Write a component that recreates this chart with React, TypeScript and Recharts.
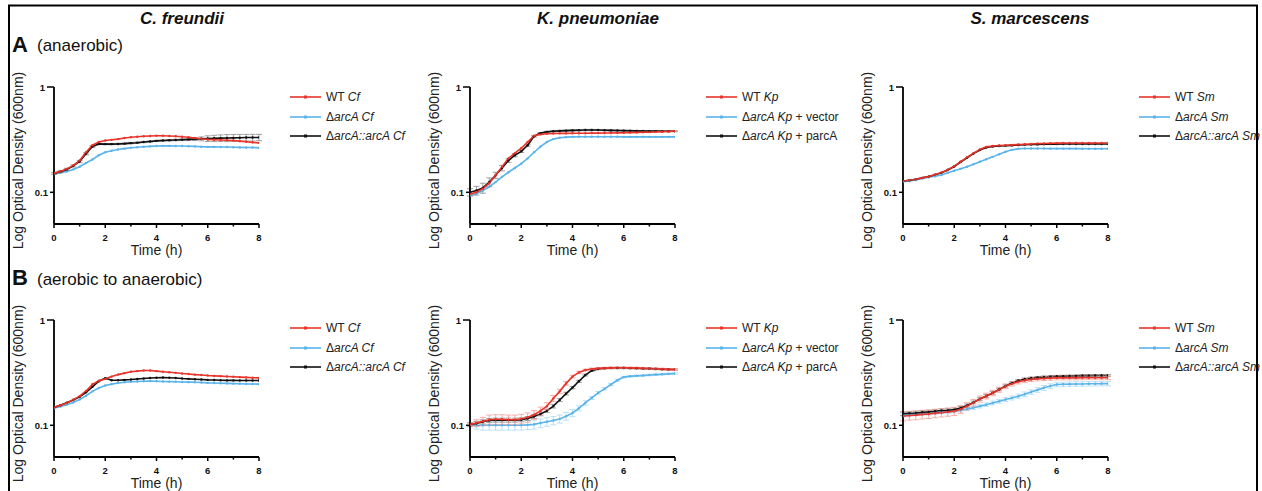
import React from "react";
import { LineChart, Line, XAxis, YAxis, Legend, ErrorBar } from "recharts";

const FONT = "'Liberation Sans', Arial, Helvetica, sans-serif";
const RED = "#e8352b";
const BLUE = "#5ab4ea";
const BLACK = "#111111";
const RED_ERR = "#f19a94";
const BLUE_ERR = "#a9d9f6";
const BLACK_ERR = "#8a8a8a";

// sampling times (h)
const times = [0, 0.25, 0.5, 0.75, 1, 1.25, 1.5, 1.75, 2, 2.25, 2.5, 2.75, 3, 3.25, 3.5, 3.75, 4, 4.25, 4.5, 4.75, 5, 5.25, 5.5, 5.75, 6, 6.25, 6.5, 6.75, 7, 7.25, 7.5, 7.75, 8];
const xTicks = [0, 1, 2, 3, 4, 5, 6, 7, 8];
const yTicks = [0.1, 1];

// A: anaerobic
const cfAnaWT = [0.152, 0.158, 0.167, 0.18, 0.2, 0.24, 0.28, 0.3, 0.31, 0.315, 0.32, 0.328, 0.333, 0.337, 0.341, 0.343, 0.344, 0.344, 0.343, 0.341, 0.337, 0.333, 0.328, 0.322, 0.318, 0.316, 0.314, 0.312, 0.31, 0.306, 0.302, 0.298, 0.295];
const cfAnaKO = [0.149, 0.153, 0.158, 0.165, 0.175, 0.19, 0.205, 0.225, 0.24, 0.248, 0.255, 0.26, 0.265, 0.268, 0.271, 0.273, 0.275, 0.276, 0.276, 0.275, 0.275, 0.274, 0.273, 0.271, 0.27, 0.27, 0.269, 0.269, 0.268, 0.267, 0.266, 0.266, 0.265];
const cfAnaComp = [0.151, 0.157, 0.165, 0.178, 0.196, 0.232, 0.272, 0.288, 0.287, 0.287, 0.288, 0.29, 0.293, 0.296, 0.3, 0.304, 0.308, 0.31, 0.312, 0.314, 0.316, 0.318, 0.32, 0.322, 0.324, 0.326, 0.327, 0.328, 0.329, 0.33, 0.331, 0.331, 0.332];
const cfAnaCompErr = [0.003, 0.003, 0.004, 0.004, 0.005, 0.005, 0.005, 0.004, 0.004, 0.004, 0.004, 0.004, 0.004, 0.004, 0.004, 0.004, 0.004, 0.004, 0.005, 0.005, 0.006, 0.008, 0.01, 0.014, 0.02, 0.022, 0.024, 0.025, 0.025, 0.025, 0.024, 0.024, 0.023];

const kpAnaWT = [0.096, 0.1, 0.108, 0.122, 0.145, 0.175, 0.21, 0.235, 0.262, 0.3, 0.345, 0.355, 0.36, 0.362, 0.363, 0.363, 0.364, 0.364, 0.364, 0.365, 0.365, 0.366, 0.366, 0.367, 0.368, 0.369, 0.37, 0.372, 0.373, 0.375, 0.376, 0.378, 0.38];
const kpAnaKO = [0.093, 0.097, 0.104, 0.113, 0.125, 0.14, 0.155, 0.17, 0.187, 0.21, 0.24, 0.272, 0.3, 0.32, 0.33, 0.334, 0.336, 0.337, 0.337, 0.337, 0.337, 0.337, 0.337, 0.337, 0.336, 0.336, 0.336, 0.336, 0.336, 0.336, 0.336, 0.336, 0.336];
const kpAnaComp = [0.1, 0.104, 0.11, 0.125, 0.145, 0.17, 0.2, 0.225, 0.245, 0.28, 0.34, 0.365, 0.375, 0.38, 0.383, 0.385, 0.387, 0.389, 0.39, 0.39, 0.39, 0.389, 0.387, 0.386, 0.385, 0.384, 0.383, 0.382, 0.381, 0.381, 0.38, 0.38, 0.38];
const kpAnaCompErr = [0.008, 0.01, 0.012, 0.012, 0.01, 0.01, 0.008, 0.008, 0.006, 0.006, 0.006, 0.005, 0.005, 0.005, 0.005, 0.005, 0.006, 0.006, 0.006, 0.006, 0.005, 0.005, 0.005, 0.004, 0.004, 0.004, 0.004, 0.004, 0.004, 0.004, 0.004, 0.004, 0.004];

const smAnaWT = [0.128, 0.13, 0.133, 0.137, 0.141, 0.147, 0.154, 0.164, 0.177, 0.195, 0.215, 0.235, 0.255, 0.27, 0.275, 0.278, 0.28, 0.282, 0.284, 0.286, 0.288, 0.29, 0.291, 0.292, 0.293, 0.294, 0.294, 0.294, 0.294, 0.294, 0.294, 0.294, 0.294];
const smAnaKO = [0.126, 0.128, 0.131, 0.135, 0.139, 0.142, 0.146, 0.153, 0.16, 0.167, 0.175, 0.185, 0.195, 0.206, 0.217, 0.23, 0.243, 0.253, 0.259, 0.261, 0.261, 0.261, 0.261, 0.26, 0.26, 0.26, 0.26, 0.26, 0.259, 0.259, 0.259, 0.259, 0.259];
const smAnaComp = [0.128, 0.13, 0.133, 0.137, 0.141, 0.147, 0.153, 0.163, 0.176, 0.194, 0.213, 0.233, 0.252, 0.266, 0.272, 0.275, 0.277, 0.279, 0.281, 0.283, 0.284, 0.285, 0.286, 0.287, 0.287, 0.288, 0.288, 0.288, 0.288, 0.288, 0.288, 0.288, 0.288];

// B: aerobic to anaerobic
const cfAerWT = [0.148, 0.155, 0.163, 0.175, 0.189, 0.212, 0.245, 0.265, 0.276, 0.29, 0.303, 0.313, 0.322, 0.327, 0.331, 0.331, 0.327, 0.323, 0.319, 0.315, 0.31, 0.307, 0.303, 0.3, 0.297, 0.295, 0.293, 0.291, 0.289, 0.287, 0.285, 0.283, 0.282];
const cfAerKO = [0.145, 0.151, 0.157, 0.165, 0.176, 0.191, 0.21, 0.226, 0.239, 0.246, 0.252, 0.256, 0.259, 0.261, 0.262, 0.263, 0.262, 0.261, 0.26, 0.259, 0.258, 0.257, 0.256, 0.255, 0.253, 0.252, 0.251, 0.25, 0.249, 0.248, 0.247, 0.247, 0.246];
const cfAerComp = [0.148, 0.155, 0.164, 0.174, 0.186, 0.206, 0.232, 0.262, 0.28, 0.268, 0.268, 0.27, 0.272, 0.275, 0.278, 0.281, 0.283, 0.284, 0.283, 0.281, 0.278, 0.276, 0.274, 0.272, 0.27, 0.269, 0.268, 0.267, 0.267, 0.266, 0.266, 0.266, 0.266];

const kpAerWT = [0.102, 0.105, 0.109, 0.113, 0.114, 0.114, 0.113, 0.113, 0.115, 0.119, 0.126, 0.137, 0.152, 0.18, 0.21, 0.25, 0.29, 0.318, 0.335, 0.343, 0.347, 0.349, 0.351, 0.352, 0.352, 0.351, 0.35, 0.348, 0.346, 0.344, 0.342, 0.34, 0.339];
const kpAerWTErr = [0.004, 0.008, 0.01, 0.012, 0.012, 0.012, 0.012, 0.012, 0.012, 0.012, 0.012, 0.012, 0.012, 0.012, 0.01, 0.01, 0.008, 0.008, 0.006, 0.006, 0.006, 0.006, 0.006, 0.006, 0.006, 0.006, 0.006, 0.006, 0.006, 0.006, 0.006, 0.006, 0.006];
const kpAerKO = [0.101, 0.1, 0.1, 0.1, 0.1, 0.1, 0.1, 0.1, 0.1, 0.101, 0.102, 0.105, 0.108, 0.111, 0.115, 0.122, 0.131, 0.145, 0.163, 0.182, 0.203, 0.222, 0.244, 0.268, 0.287, 0.292, 0.295, 0.297, 0.3, 0.303, 0.305, 0.308, 0.31];
const kpAerKOErr = [0.004, 0.008, 0.01, 0.01, 0.01, 0.01, 0.01, 0.01, 0.01, 0.01, 0.01, 0.01, 0.01, 0.01, 0.01, 0.01, 0.01, 0.008, 0.008, 0.006, 0.006, 0.006, 0.006, 0.006, 0.005, 0.005, 0.005, 0.005, 0.005, 0.005, 0.005, 0.005, 0.005];
const kpAerComp = [0.102, 0.104, 0.108, 0.111, 0.112, 0.112, 0.112, 0.112, 0.113, 0.116, 0.121, 0.128, 0.137, 0.152, 0.174, 0.2, 0.228, 0.262, 0.3, 0.33, 0.343, 0.348, 0.35, 0.35, 0.35, 0.349, 0.348, 0.346, 0.345, 0.343, 0.341, 0.34, 0.339];
const kpAerCompErr = [0.004, 0.005, 0.005, 0.005, 0.005, 0.005, 0.005, 0.005, 0.005, 0.005, 0.005, 0.005, 0.005, 0.006, 0.006, 0.006, 0.006, 0.006, 0.006, 0.005, 0.005, 0.005, 0.005, 0.005, 0.005, 0.005, 0.005, 0.005, 0.005, 0.005, 0.005, 0.005, 0.005];

const smAerWT = [0.122, 0.124, 0.125, 0.127, 0.128, 0.13, 0.132, 0.134, 0.136, 0.142, 0.152, 0.164, 0.178, 0.19, 0.203, 0.218, 0.235, 0.248, 0.259, 0.266, 0.272, 0.276, 0.278, 0.28, 0.282, 0.282, 0.282, 0.282, 0.283, 0.283, 0.283, 0.283, 0.283];
const smAerWTErr = [0.012, 0.012, 0.012, 0.012, 0.012, 0.012, 0.012, 0.012, 0.012, 0.012, 0.012, 0.012, 0.012, 0.012, 0.012, 0.012, 0.012, 0.012, 0.012, 0.012, 0.012, 0.012, 0.012, 0.012, 0.012, 0.012, 0.012, 0.012, 0.012, 0.012, 0.012, 0.012, 0.012];
const smAerKO = [0.126, 0.127, 0.128, 0.129, 0.129, 0.131, 0.133, 0.134, 0.136, 0.139, 0.143, 0.147, 0.152, 0.157, 0.163, 0.169, 0.176, 0.182, 0.189, 0.197, 0.207, 0.217, 0.227, 0.236, 0.244, 0.245, 0.246, 0.247, 0.247, 0.248, 0.248, 0.249, 0.249];
const smAerKOErr = [0.004, 0.004, 0.004, 0.004, 0.004, 0.004, 0.004, 0.004, 0.005, 0.005, 0.005, 0.006, 0.006, 0.006, 0.007, 0.007, 0.008, 0.008, 0.009, 0.01, 0.01, 0.011, 0.012, 0.012, 0.012, 0.012, 0.012, 0.012, 0.012, 0.012, 0.012, 0.012, 0.012];
const smAerComp = [0.129, 0.13, 0.131, 0.133, 0.134, 0.136, 0.138, 0.139, 0.141, 0.146, 0.154, 0.165, 0.178, 0.19, 0.203, 0.219, 0.236, 0.252, 0.266, 0.275, 0.281, 0.285, 0.288, 0.29, 0.292, 0.293, 0.294, 0.295, 0.296, 0.296, 0.297, 0.297, 0.297];
const smAerCompErr = [0.005, 0.005, 0.005, 0.005, 0.005, 0.005, 0.005, 0.005, 0.005, 0.005, 0.005, 0.005, 0.005, 0.006, 0.006, 0.006, 0.006, 0.006, 0.006, 0.006, 0.006, 0.006, 0.006, 0.006, 0.006, 0.006, 0.006, 0.006, 0.006, 0.006, 0.006, 0.006, 0.006];

// legend labels: [text, italic]
const cfNames = [[["WT ", false], ["Cf", true]], [["Δ", false], ["arcA Cf", true]], [["Δ", false], ["arcA::arcA Cf", true]]];
const kpNames = [[["WT ", false], ["Kp", true]], [["Δ", false], ["arcA Kp", true], [" + vector", false]], [["Δ", false], ["arcA Kp", true], [" + parcA", false]]];
const smNames = [[["WT ", false], ["Sm", true]], [["Δ", false], ["arcA Sm", true]], [["Δ", false], ["arcA::arcA Sm", true]]];

const PLOT_W = 205;
const PLOT_H = 137;
const M_LEFT = 10;
const Y_W = 40;
const M_TOP = 25;
const X_H = 36;

const XTick = (props: any) => {
  const { x, y, payload } = props;
  const major = payload.value % 2 === 0;
  return (
    <g>
      <line x1={x} x2={x} y1={y} y2={y + (major ? 4 : 2.5)} stroke="#000" strokeWidth={1.5} />
      {major && (
        <text x={x} y={y + 16.5} textAnchor="middle" fontSize={9.5} fontWeight={700} fontFamily={FONT} fill="#111">
          {payload.value}
        </text>
      )}
    </g>
  );
};

const YTick = (props: any) => {
  const { x, y, payload } = props;
  const len = payload.value === 1 ? 7 : 4;
  return (
    <g>
      <line x1={x - len} x2={x} y1={y} y2={y} stroke="#000" strokeWidth={1.5} />
      <text x={x - len - 2} y={y + 3.5} textAnchor="end" fontSize={9.5} fontWeight={700} fontFamily={FONT} fill="#111">
        {payload.value}
      </text>
    </g>
  );
};

const YLabel = () => {
  const cx = M_LEFT + Y_W - 36;
  const cy = M_TOP + PLOT_H / 2 + 5;
  return (
    <text x={cx} y={cy} transform={`rotate(-90 ${cx} ${cy})`} textAnchor="middle" dominantBaseline="central" fontSize={14} fontFamily={FONT} fill="#222">
      Log Optical Density (600nm)
    </text>
  );
};

const XLabel = () => (
  <text x={M_LEFT + Y_W + PLOT_W / 2} y={M_TOP + PLOT_H + 31} textAnchor="middle" fontSize={14} fontFamily={FONT} fill="#222">
    Time (h)
  </text>
);

function Panel({ plotLeft, plotTop, legendTop, series }: any) {
  const data = times.map((t, i) => {
    const row: any = { t };
    series.forEach((s: any) => {
      row[s.key] = s.values[i];
      if (s.err) row[s.key + "Err"] = s.err[i];
    });
    return row;
  });
  const drawOrder = [series[1], series[2], series[0]];
  const renderLegend = () => (
    <div style={{ fontFamily: FONT, fontSize: 12, color: "#222" }}>
      {series.map((s: any) => (
        <div key={s.key} style={{ display: "flex", alignItems: "center", height: 19.5 }}>
          <svg width={31} height={6} style={{ flex: "none" }}>
            <line x1={0} x2={31} y1={3} y2={3} stroke={s.color} strokeWidth={1.6} />
            <rect x={14} y={1.5} width={3} height={3} fill={s.color} />
          </svg>
          <span style={{ marginLeft: 5, whiteSpace: "nowrap" }}>
            {s.name.map(([txt, it]: any, i: number) => (
              <span key={i} style={{ fontStyle: it ? "italic" : "normal" }}>{txt}</span>
            ))}
          </span>
        </div>
      ))}
    </div>
  );
  return (
    <div style={{ position: "absolute", left: plotLeft - M_LEFT - Y_W, top: plotTop - M_TOP }}>
      <LineChart width={420} height={M_TOP + PLOT_H + X_H} data={data} margin={{ top: M_TOP, right: 420 - M_LEFT - Y_W - PLOT_W, bottom: 0, left: M_LEFT }}>
        <XAxis
          dataKey="t"
          type="number"
          domain={[0, 8]}
          ticks={xTicks}
          interval={0}
          tick={<XTick />}
          tickLine={false}
          tickSize={0}
          tickMargin={0}
          height={X_H}
          axisLine={{ stroke: "#000", strokeWidth: 1.8 }}
          allowDataOverflow
          label={<XLabel />}
        />
        <YAxis
          type="number"
          scale="log"
          domain={[0.05, 1]}
          ticks={yTicks}
          interval={0}
          tick={<YTick />}
          tickLine={false}
          tickSize={0}
          tickMargin={0}
          width={Y_W}
          axisLine={{ stroke: "#000", strokeWidth: 1.8 }}
          allowDataOverflow
          label={<YLabel />}
        />
        <Legend
          layout="vertical"
          align="center"
          verticalAlign="middle"
          width={150}
          content={renderLegend}
          wrapperStyle={{ left: M_LEFT + Y_W + PLOT_W + 31, top: legendTop + M_TOP }}
        />
        {drawOrder.map((s: any) => (
          <Line
            key={s.key}
            dataKey={s.key}
            name={s.key}
            type="linear"
            stroke={s.color}
            strokeWidth={1.6}
            dot={{ r: 1.2, fill: s.color, stroke: "none" }}
            activeDot={false}
            isAnimationActive={false}
          >
            {s.err && (
              <ErrorBar dataKey={s.key + "Err"} width={3} stroke={s.errColor} strokeWidth={0.8} direction="y" isAnimationActive={false} />
            )}
          </Line>
        ))}
      </LineChart>
    </div>
  );
}

const mk = (names: any, wt: number[], ko: number[], comp: number[], errs: any = {}) => [
  { key: "wt", name: names[0], color: RED, errColor: RED_ERR, values: wt, err: errs.wt },
  { key: "ko", name: names[1], color: BLUE, errColor: BLUE_ERR, values: ko, err: errs.ko },
  { key: "comp", name: names[2], color: BLACK, errColor: BLACK_ERR, values: comp, err: errs.comp },
];

export default function App() {
  const rowA = 87;
  const rowB = 320;
  return (
    <div style={{ position: "absolute", left: 0, top: 0, width: 1262, height: 491, overflow: "hidden", background: "#fff", fontFamily: FONT }}>
      <Panel plotLeft={54} plotTop={rowA} legendTop={0.5} series={mk(cfNames, cfAnaWT, cfAnaKO, cfAnaComp, { comp: cfAnaCompErr })} />
      <Panel plotLeft={470} plotTop={rowA} legendTop={0.5} series={mk(kpNames, kpAnaWT, kpAnaKO, kpAnaComp, { comp: kpAnaCompErr })} />
      <Panel plotLeft={903} plotTop={rowA} legendTop={0.5} series={mk(smNames, smAnaWT, smAnaKO, smAnaComp)} />
      <Panel plotLeft={54} plotTop={rowB} legendTop={-1.5} series={mk(cfNames, cfAerWT, cfAerKO, cfAerComp)} />
      <Panel plotLeft={470} plotTop={rowB} legendTop={-1.5} series={mk(kpNames, kpAerWT, kpAerKO, kpAerComp, { wt: kpAerWTErr, ko: kpAerKOErr, comp: kpAerCompErr })} />
      <Panel plotLeft={903} plotTop={rowB} legendTop={-1.5} series={mk(smNames, smAerWT, smAerKO, smAerComp, { wt: smAerWTErr, ko: smAerKOErr, comp: smAerCompErr })} />
      <svg width={1262} height={491} style={{ position: "absolute", left: 0, top: 0, pointerEvents: "none" }}>
        <line x1={8} x2={1258} y1={5.5} y2={5.5} stroke="#000" strokeWidth={2} />
        <line x1={9} x2={9} y1={5} y2={491} stroke="#000" strokeWidth={2} />
        <line x1={1257} x2={1257} y1={5} y2={491} stroke="#000" strokeWidth={2} />
        <g fontFamily={FONT} fill="#111">
          <text x={182} y={24} textAnchor="middle" fontSize={17} fontWeight={700} fontStyle="italic">C. freundii</text>
          <text x={598} y={24} textAnchor="middle" fontSize={17} fontWeight={700} fontStyle="italic">K. pneumoniae</text>
          <text x={1030} y={24} textAnchor="middle" fontSize={17} fontWeight={700} fontStyle="italic">S. marcescens</text>
          <text x={12} y={51.5} fontSize={22} fontWeight={700}>A</text>
          <text x={37} y={51} fontSize={17}>(anaerobic)</text>
          <text x={12} y={285} fontSize={22} fontWeight={700}>B</text>
          <text x={37} y={284.5} fontSize={17}>(aerobic to anaerobic)</text>
        </g>
      </svg>
    </div>
  );
}
